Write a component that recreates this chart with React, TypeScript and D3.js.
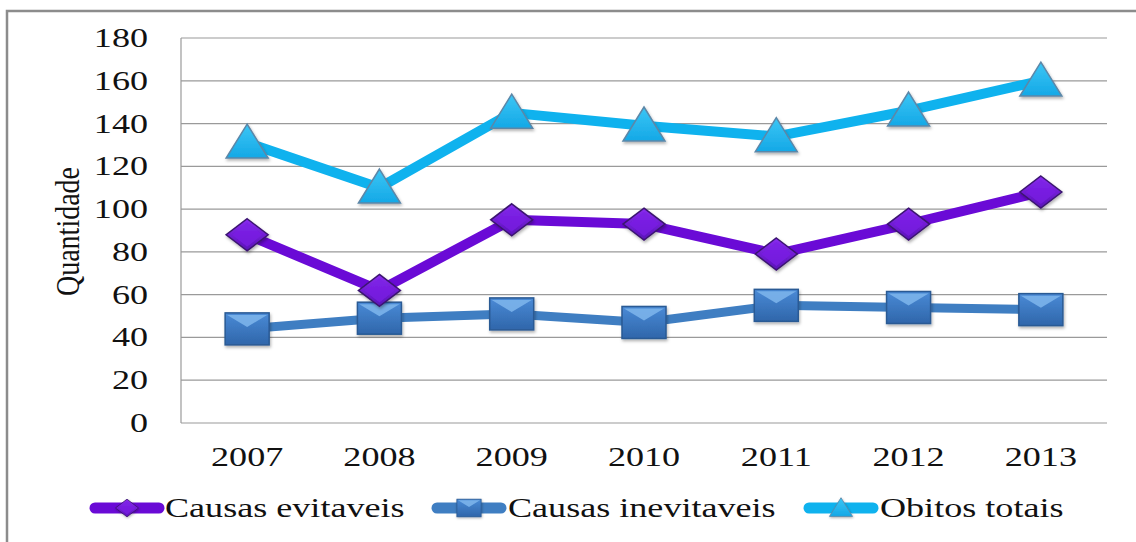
import React from "react";
import * as d3 from "d3";

const years = ["2007", "2008", "2009", "2010", "2011", "2012", "2013"];
const evitaveis = [88, 62, 95, 93, 79, 93, 108];
const inevitaveis = [44, 49, 51, 47, 55, 54, 53];
const obitos = [131, 110, 145, 139, 134, 146, 160];
const yTicks = [0, 20, 40, 60, 80, 100, 120, 140, 160, 180];
const seriesNames = ["Causas evitaveis", "Causas inevitaveis", "Obitos totais"];

const W = 1136, H = 542;
const plot = { left: 181, right: 1107, top: 38, bottom: 423 };
const FONT = "Liberation Serif, DejaVu Serif, serif";
const SX = 1.29;

function T({ x, y, anchor, children }: { x: number; y: number; anchor?: string; children: React.ReactNode }) {
  return (
    <text transform={`translate(${x},${y}) scale(${SX},1)`} textAnchor={anchor || "start"} fontSize={28} fill="#111" fontFamily={FONT}>
      {children}
    </text>
  );
}

function Diamond({ x, y }: { x: number; y: number }) {
  const w = 21, h = 16;
  return (
    <g filter="url(#shadow)">
      <path d={`M${x},${y - h} L${x + w},${y} L${x},${y + h} L${x - w},${y} Z`} fill="url(#gDiamond)" stroke="#3b1470" strokeWidth={1.5} />
      <path d={`M${x},${y - h + 4} L${x + w - 6},${y} L${x},${y + h - 4} L${x - w + 6},${y} Z`} fill="#7a1fe6" opacity={0.7} />
    </g>
  );
}

function Square({ x, y }: { x: number; y: number }) {
  const w = 22, h = 16;
  return (
    <g filter="url(#shadow)">
      <rect x={x - w} y={y - h} width={2 * w} height={2 * h} fill="url(#gSquare)" stroke="#2a5a94" strokeWidth={1.5} />
      <path d={`M${x - w + 2},${y - h + 2} L${x},${y - 2} L${x + w - 2},${y - h + 2} Z`} fill="#7fb6ec" opacity={0.85} />
    </g>
  );
}

function Triangle({ x, y }: { x: number; y: number }) {
  const w = 21, h = 34;
  return (
    <g filter="url(#shadow)">
      <path d={`M${x},${y - h * 0.55} L${x + w},${y + h * 0.45} L${x - w},${y + h * 0.45} Z`} fill="url(#gTri)" stroke="#5c87a8" strokeWidth={1.5} />
    </g>
  );
}

export default function App() {
  const x = d3.scaleBand<string>().domain(years).range([plot.left, plot.right]);
  const y = d3.scaleLinear().domain([0, 180]).range([plot.bottom, plot.top]);
  const cx = (yr: string) => (x(yr) as number) + x.bandwidth() / 2;
  const line = d3.line<number>().x((_, i) => cx(years[i])).y((d) => y(d));

  const legendItems = [
    { name: seriesNames[0], color: "#6a0ad6", x0: 95, tx: 165, Marker: Diamond },
    { name: seriesNames[1], color: "#3f7ec2", x0: 437, tx: 508, Marker: Square },
    { name: seriesNames[2], color: "#0fb2ee", x0: 809, tx: 880, Marker: Triangle },
  ];

  return (
    <svg width={W} height={H} style={{ position: "absolute", left: 0, top: 0, background: "#fff" }}>
      <defs>
        <filter id="shadow" x="-50%" y="-50%" width="200%" height="200%">
          <feDropShadow dx="1" dy="2" stdDeviation="1.5" floodColor="#000" floodOpacity="0.3" />
        </filter>
        <linearGradient id="gDiamond" x1="0" y1="0" x2="0" y2="1">
          <stop offset="0" stopColor="#8a2cf0" />
          <stop offset="1" stopColor="#5a10b8" />
        </linearGradient>
        <linearGradient id="gSquare" x1="0" y1="0" x2="0" y2="1">
          <stop offset="0" stopColor="#4a8ad6" />
          <stop offset="1" stopColor="#2f66aa" />
        </linearGradient>
        <linearGradient id="gTri" x1="0" y1="0" x2="0" y2="1">
          <stop offset="0" stopColor="#3cc6f5" />
          <stop offset="1" stopColor="#14a8e6" />
        </linearGradient>
      </defs>
      <rect x={7} y={11} width={1200} height={600} fill="#fff" stroke="#8c8c8c" strokeWidth={2.5} />
      {yTicks.map((t) => (
        <line key={"g" + t} x1={plot.left} x2={plot.right} y1={y(t)} y2={y(t)} stroke="#9a9a9a" strokeWidth={1.2} />
      ))}
      {yTicks.map((t) => (
        <T key={"l" + t} x={148} y={y(t) + 9} anchor="end">{t}</T>
      ))}
      <line x1={plot.left} x2={plot.left} y1={plot.top} y2={plot.bottom} stroke="#9a9a9a" strokeWidth={1.2} />
      <text transform={`translate(79,${(plot.top + plot.bottom) / 2 + 1}) scale(1.2,1) rotate(-90)`} textAnchor="middle" fontSize={28} fill="#111" fontFamily={FONT}>Quantidade</text>
      {years.map((yr) => (
        <T key={yr} x={cx(yr)} y={466} anchor="middle">{yr}</T>
      ))}
      <path d={line(inevitaveis) || ""} fill="none" stroke="#3f7ec2" strokeWidth={9} strokeLinejoin="round" />
      <path d={line(evitaveis) || ""} fill="none" stroke="#6a0ad6" strokeWidth={10} strokeLinejoin="round" />
      <path d={line(obitos) || ""} fill="none" stroke="#0fb2ee" strokeWidth={10} strokeLinejoin="round" />
      {inevitaveis.map((v, i) => <Square key={"s" + i} x={cx(years[i])} y={y(v)} />)}
      {evitaveis.map((v, i) => <Diamond key={"d" + i} x={cx(years[i])} y={y(v)} />)}
      {obitos.map((v, i) => <Triangle key={"t" + i} x={cx(years[i])} y={y(v)} />)}
      {legendItems.map((it) => (
        <g key={it.name}>
          <line x1={it.x0} x2={it.x0 + 64} y1={508} y2={508} stroke={it.color} strokeWidth={11} strokeLinecap="round" />
          <g transform={`translate(${it.x0 + 32},508) scale(0.55)`}>
            <it.Marker x={0} y={0} />
          </g>
          <T x={it.tx} y={517}>{it.name}</T>
        </g>
      ))}
    </svg>
  );
}
